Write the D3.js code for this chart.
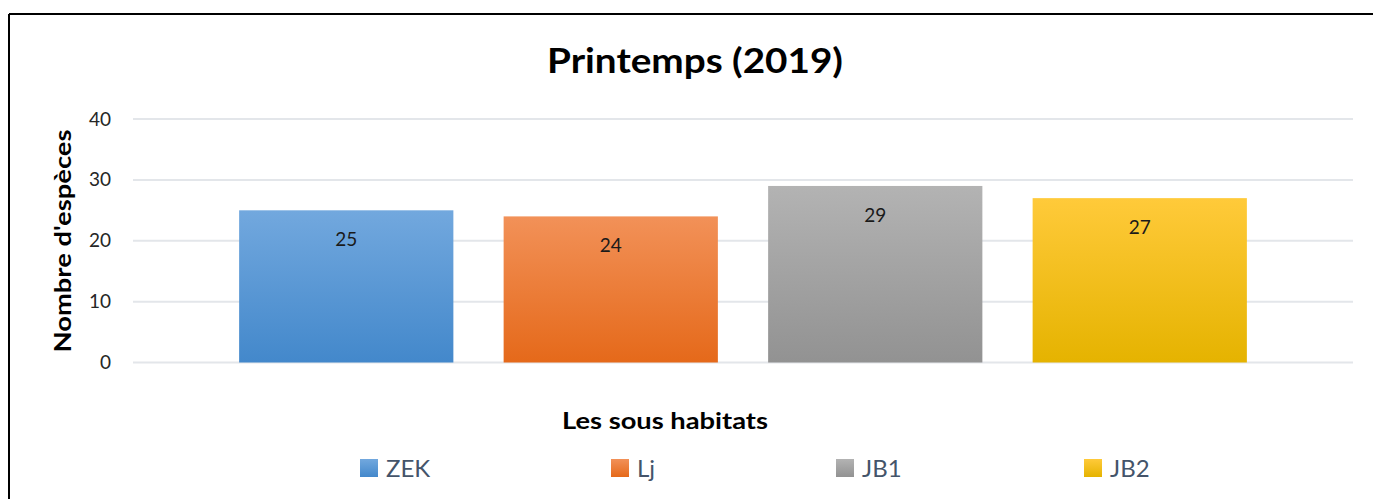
<!DOCTYPE html>
<html>
<head>
<meta charset="utf-8">
<script src="https://cdn.jsdelivr.net/npm/d3@7"></script>
<style>
  body { margin: 0; background: #fff; }
  svg { display: block; font-family: Lato, "Open Sans", sans-serif; }
</style>
</head>
<body>
<svg id="chart" width="1373" height="499"></svg>
<script>
// data
const categories = ["ZEK", "Lj", "JB1", "JB2"];
const values = [25, 24, 29, 27];
const yTicks = [0, 10, 20, 30, 40];
const colorsTop = ["#72a8de", "#f29158", "#b3b3b3", "#ffca3a"];
const colorsBottom = ["#4388cb", "#e5691a", "#929292", "#e5b300"];

const svg = d3.select("#chart");
const width = 1373, height = 499;

// frame (only top + left visible in the crop)
svg.append("line").attr("x1", 9).attr("x2", width).attr("y1", 14).attr("y2", 14)
    .attr("stroke", "#000").attr("stroke-width", 2);
svg.append("line").attr("x1", 9).attr("x2", 9).attr("y1", 14).attr("y2", height)
    .attr("stroke", "#000").attr("stroke-width", 2);

// gradients
const defs = svg.append("defs");
categories.forEach((c, i) => {
    const g = defs.append("linearGradient").attr("id", "grad" + i)
        .attr("x1", 0).attr("y1", 0).attr("x2", 0).attr("y2", 1);
    g.append("stop").attr("offset", "0%").attr("stop-color", colorsTop[i]);
    g.append("stop").attr("offset", "100%").attr("stop-color", colorsBottom[i]);
});

// scales
const x = d3.scaleBand()
    .domain(categories)
    .range([214, 1272])
    .paddingInner(0.19)
    .paddingOuter(0.095);

const y = d3.scaleLinear()
    .domain([0, 40])
    .range([362.5, 119]);

// gridlines
svg.append("g")
    .selectAll("line")
    .data(yTicks)
    .join("line")
    .attr("x1", 133).attr("x2", 1353)
    .attr("y1", d => y(d)).attr("y2", d => y(d))
    .attr("stroke", "#e3e6ea")
    .attr("stroke-width", 2);

// y axis labels
const yAxis = svg.append("g")
    .attr("transform", "translate(111,0)")
    .call(d3.axisLeft(y).tickValues(yTicks).tickSize(0).tickPadding(0));
yAxis.select(".domain").remove();
yAxis.selectAll("text")
    .attr("font-family", "Lato, 'Open Sans', sans-serif")
    .attr("font-size", 19)
    .attr("fill", "#262626");

// bars
svg.append("g")
    .selectAll("rect")
    .data(values)
    .join("rect")
    .attr("x", (d, i) => x(categories[i]))
    .attr("width", x.bandwidth())
    .attr("y", d => y(d))
    .attr("height", d => y(0) - y(d))
    .attr("fill", (d, i) => `url(#grad${i})`);

// value labels
svg.append("g")
    .selectAll("text")
    .data(values)
    .join("text")
    .attr("x", (d, i) => x(categories[i]) + x.bandwidth() / 2)
    .attr("y", d => y(d) + 36)
    .attr("text-anchor", "middle")
    .attr("font-size", 19)
    .attr("fill", "#1a1a1a")
    .text(d => d);

// title
svg.append("text")
    .attr("x", 695).attr("y", 73)
    .attr("text-anchor", "middle")
    .attr("font-size", 34)
    .attr("font-weight", "bold")
    .attr("fill", "#000")
    .attr("textLength", 296)
    .attr("lengthAdjust", "spacingAndGlyphs")
    .text("Printemps (2019)");

// axis titles
svg.append("text")
    .attr("transform", "translate(71,241) rotate(-90)")
    .attr("text-anchor", "middle")
    .attr("font-size", 23)
    .attr("font-weight", "bold")
    .attr("fill", "#000")
    .attr("textLength", 223)
    .attr("lengthAdjust", "spacingAndGlyphs")
    .text("Nombre d'espèces");

svg.append("text")
    .attr("x", 665).attr("y", 429)
    .attr("text-anchor", "middle")
    .attr("font-size", 23)
    .attr("font-weight", "bold")
    .attr("fill", "#000")
    .attr("textLength", 206)
    .attr("lengthAdjust", "spacingAndGlyphs")
    .text("Les sous habitats");

// legend
const legendX = [360, 611, 836, 1084];
const legend = svg.append("g")
    .selectAll("g")
    .data(categories)
    .join("g")
    .attr("transform", (d, i) => `translate(${legendX[i]},459)`);
legend.append("rect")
    .attr("width", 18).attr("height", 18)
    .attr("fill", (d, i) => `url(#grad${i})`);
legend.append("text")
    .attr("x", 26).attr("y", 18)
    .attr("font-size", 24)
    .attr("fill", "#44546a")
    .text(d => d);
</script>
</body>
</html>
